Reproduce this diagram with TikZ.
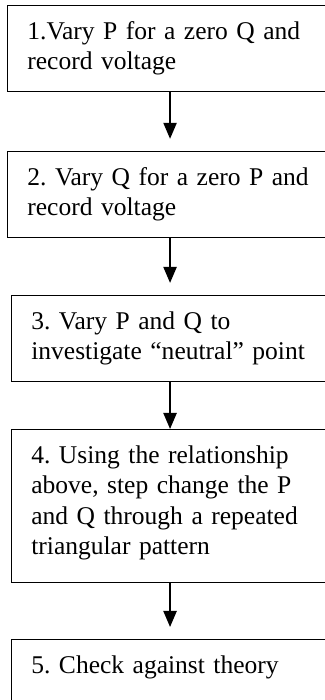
\documentclass[tikz,border=0pt]{standalone}
\usepackage{fontspec}
\setmainfont{Liberation Serif}
\frenchspacing
\usetikzlibrary{arrows.meta}
\tikzstyle{stage} = [draw,anchor=north west,text width=142pt,align=left,inner xsep=9pt,inner ysep=7.3pt,line width=0.5pt,font=\fontsize{11.6}{13.8}\selectfont]
\tikzstyle{flow} = [->,line width=0.8pt,shorten >=5.5pt]

\begin{document}
\begin{tikzpicture}[>={Triangle[length=7.3pt,width=6pt]}]

% Page frame
    \useasboundingbox (0,0) rectangle (147.3pt,-318.2pt);
    \coordinate (axis) at (77.3pt,0);

% Draw blocks
    \node[stage] at (3.2pt,-2.3pt) (step1) {1.Vary P for a zero Q and\\record voltage};
    \node[stage] at (3.2pt,-68.6pt) (step2) {2. Vary Q for a zero P and\\record voltage};
    \node[stage] at (5pt,-134.1pt) (step3) {3. Vary P and Q to\\investigate “neutral” point};
    \node[stage,text depth=46.7pt] at (5pt,-195pt) (step4) {4. Using the relationship\\above, step change the P\\and Q through a repeated\\triangular pattern};
    \node[stage,text depth=25pt] at (5pt,-290.5pt) (step5) {5. Check against theory};

% Arrows
    \draw[flow] (step1.south -| axis) -- (step2.north -| axis);
    \draw[flow] (step2.south -| axis) -- (step3.north -| axis);
    \draw[flow,shorten >=0pt] (step3.south -| axis) -- (step4.north -| axis);
    \draw[flow] (step4.south -| axis) -- (step5.north -| axis);

\end{tikzpicture}
\end{document}
